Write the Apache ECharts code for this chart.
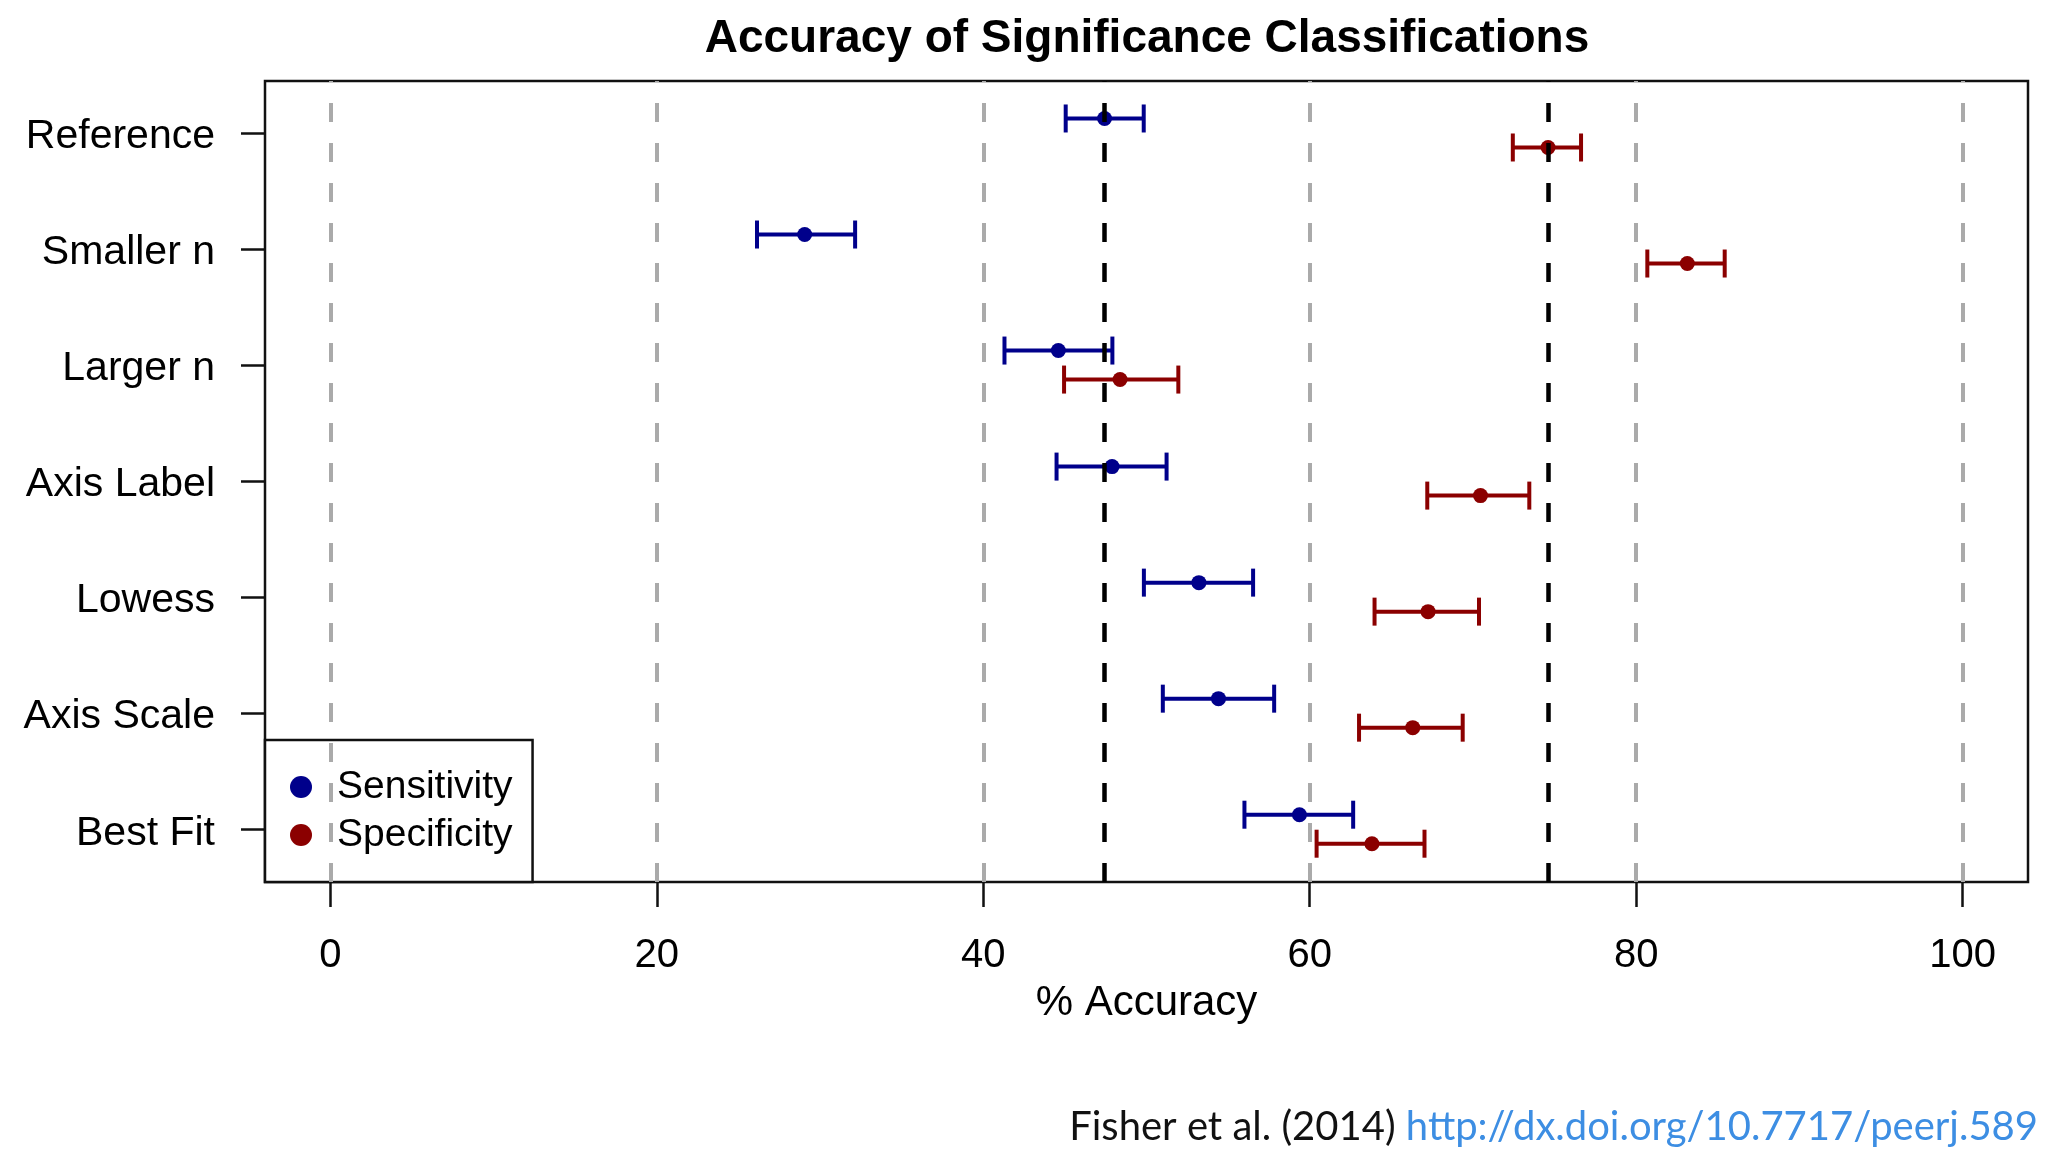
<!DOCTYPE html>
<html>
<head>
<meta charset="utf-8">
<script src="https://cdn.jsdelivr.net/npm/echarts@6/dist/echarts.min.js"></script>
<style>
  html, body { margin: 0; padding: 0; background: #fff; }
  #main { width: 2048px; height: 1152px; }
</style>
</head>
<body>
<div id="main"></div>
<script>
var chartDom = document.getElementById('main');
var myChart = echarts.init(chartDom);

// 数据：从上到下的类别
var categories = ['Reference', 'Smaller n', 'Larger n', 'Axis Label', 'Lowess', 'Axis Scale', 'Best Fit'];
var sensEst  = [47.43, 29.06, 44.60, 47.89, 53.21, 54.41, 59.37];
var sensLow  = [45.05, 26.14, 41.30, 44.49, 49.84, 51.00, 56.00];
var sensHigh = [49.83, 32.15, 47.91, 51.23, 56.53, 57.82, 62.66];
var specEst  = [74.60, 83.13, 48.38, 70.46, 67.25, 66.31, 63.81];
var specLow  = [72.44, 80.68, 44.95, 67.20, 63.97, 63.02, 60.42];
var specHigh = [76.62, 85.42, 51.95, 73.45, 70.37, 69.37, 67.03];
var xTicks = [0, 20, 40, 60, 80, 100];

var blue = '#00008b';
var red = '#8b0000';
var font = 'Liberation Sans, Arial, Helvetica, sans-serif';

// 类别在 y 轴上的位置 (Reference 在最上面)
var n = categories.length;
function yPos(i) { return n - i; }
var yTicks = categories.map(function (c, i) { return yPos(i); });

var sensBars = [], specBars = [], sensPts = [], specPts = [];
for (var i = 0; i < n; i++) {
    sensBars.push([sensLow[i], sensHigh[i], yPos(i) + 0.125]);
    specBars.push([specLow[i], specHigh[i], yPos(i) - 0.125]);
    sensPts.push([sensEst[i], yPos(i) + 0.125]);
    specPts.push([specEst[i], yPos(i) - 0.125]);
}

function errorBar(color) {
    return function (params, api) {
        var a = api.coord([api.value(0), api.value(2)]);
        var b = api.coord([api.value(1), api.value(2)]);
        var h = 14;
        var st = { stroke: color, lineWidth: 4 };
        return {
            type: 'group',
            children: [
                { type: 'line', shape: { x1: a[0], y1: a[1], x2: b[0], y2: b[1] }, style: st },
                { type: 'line', shape: { x1: a[0], y1: a[1] - h, x2: a[0], y2: a[1] + h }, style: st },
                { type: 'line', shape: { x1: b[0], y1: b[1] - h, x2: b[0], y2: b[1] + h }, style: st }
            ]
        };
    };
}

var grayLines = xTicks.map(function (v) {
    return { xAxis: v, lineStyle: { color: '#aaaaaa', width: 4, type: [19, 21] } };
});
var blackLines = [sensEst[0], specEst[0]].map(function (v) {
    return { xAxis: v, lineStyle: { color: '#000', width: 4.5, type: [19, 21] } };
});

option = {
    animation: false,
    backgroundColor: '#fff',
    graphic: [{
        type: 'text',
        x: 1147, y: 39,
        style: {
            text: 'Accuracy of Significance Classifications',
            font: 'bold 46px ' + font,
            fill: '#000',
            align: 'center',
            verticalAlign: 'middle'
        }
    }, {
        type: 'text',
        x: 2038, y: 1127,
        style: {
            text: '{a|Fisher et al. (2014) }{b|http://dx.doi.org/10.7717/peerj.589}',
            align: 'right',
            verticalAlign: 'middle',
            rich: {
                a: { fontFamily: 'Lato', fontSize: 40, fill: '#111' },
                b: { fontFamily: 'Lato', fontSize: 40, fill: '#3d8ee3' }
            }
        }
    }],
    grid: {
        left: 265, right: 20, top: 81, bottom: 270,
        show: true,
        borderColor: '#111',
        borderWidth: 2.5,
        backgroundColor: 'transparent'
    },
    legend: {
        orient: 'vertical',
        left: 265, top: 740,
        padding: [27, 20, 27, 25],
        itemGap: 8,
        itemWidth: 22, itemHeight: 22,
        backgroundColor: '#fff',
        borderColor: '#111',
        borderWidth: 2.5,
        borderRadius: 0,
        textStyle: { fontFamily: font, fontSize: 39, color: '#000', lineHeight: 40, padding: [0, 0, 0, 20] },
        data: [{ name: 'Sensitivity', icon: 'circle' }, { name: 'Specificity', icon: 'circle' }]
    },
    xAxis: {
        type: 'value',
        min: -4, max: 104,
        name: '% Accuracy',
        nameLocation: 'middle',
        nameGap: 100,
        nameTextStyle: { fontFamily: font, fontSize: 42, color: '#000' },
        axisLine: { show: false, onZero: false },
        splitLine: { show: false },
        axisTick: { show: true, length: 25, customValues: xTicks, lineStyle: { color: '#111', width: 2.5 } },
        axisLabel: { customValues: xTicks, margin: 54, fontFamily: font, fontSize: 40, color: '#000' }
    },
    yAxis: {
        type: 'value',
        min: 0.545, max: 7.448,
        axisLine: { show: false, onZero: false },
        splitLine: { show: false },
        axisTick: { show: true, length: 24, customValues: yTicks, lineStyle: { color: '#111', width: 2.5 } },
        axisLabel: {
            customValues: yTicks,
            margin: 50,
            fontFamily: font, fontSize: 41, color: '#000',
            verticalAlign: 'top',
            lineHeight: 8,
            formatter: function (v) { return categories[n - Math.round(v)]; }
        }
    },
    series: [{
        name: 'guides',
        type: 'line',
        data: [],
        markLine: {
            silent: true,
            symbol: 'none',
            label: { show: false },
            data: grayLines.concat(blackLines)
        }
    }, {
        name: 'sensBars',
        type: 'custom',
        renderItem: errorBar(blue),
        data: sensBars,
        z: 3
    }, {
        name: 'specBars',
        type: 'custom',
        renderItem: errorBar(red),
        data: specBars,
        z: 3
    }, {
        name: 'Sensitivity',
        type: 'scatter',
        data: sensPts,
        symbolSize: 15,
        itemStyle: { color: blue, opacity: 1 },
        z: 4
    }, {
        name: 'Specificity',
        type: 'scatter',
        data: specPts,
        symbolSize: 15,
        itemStyle: { color: red, opacity: 1 },
        z: 4
    }]
};

myChart.setOption(option);
</script>
</body>
</html>
